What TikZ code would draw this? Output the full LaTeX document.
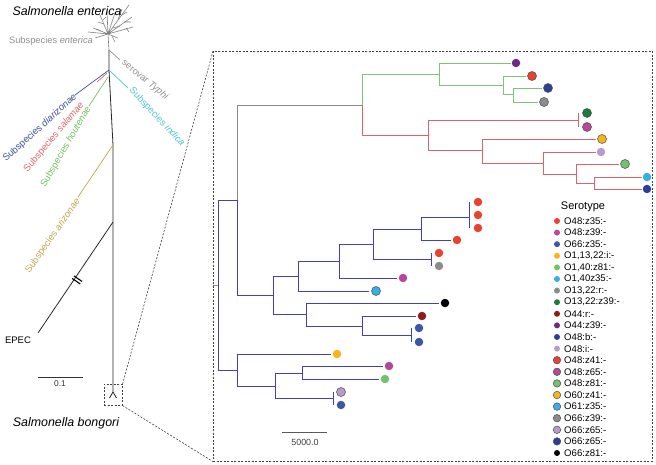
\documentclass[tikz,border=0pt]{standalone}
\usepackage{fontspec}
\setmainfont{Liberation Sans}
\definecolor{cRed}{HTML}{E8432D}
\definecolor{cMag}{HTML}{B5489C}
\definecolor{cBlue}{HTML}{3C57A6}
\definecolor{cOrange}{HTML}{F7B519}
\definecolor{cLGreen}{HTML}{72C16F}
\definecolor{cLBlue}{HTML}{36B0E2}
\definecolor{cGray}{HTML}{8C8C8C}
\definecolor{cDGreen}{HTML}{1B7B3F}
\definecolor{cDRed}{HTML}{8E1B1E}
\definecolor{cPurple}{HTML}{6E2C80}
\definecolor{cDBlue}{HTML}{2C3F98}
\definecolor{cLPurple}{HTML}{B89ACB}
\definecolor{brGreen}{HTML}{7DC47A}
\definecolor{brRed}{HTML}{D9646C}
\definecolor{brBlue}{HTML}{4040C0}
\definecolor{brGray}{HTML}{8A8A8A}
\definecolor{tGray}{HTML}{8F8F8F}
\definecolor{tCyan}{HTML}{4EC3CF}
\definecolor{tBlue}{HTML}{3B4FA0}
\definecolor{tRed}{HTML}{E06666}
\definecolor{tGreen}{HTML}{77C060}
\definecolor{tOlive}{HTML}{C0A550}
\begin{document}
\begin{tikzpicture}[x=1pt,y=-1pt,
  br/.style={line width=0.9pt},
  bgreen/.style={br,draw=brGreen},
  bred/.style={br,draw=brRed},
  bblue/.style={br,draw=brBlue},
  bgray/.style={br,draw=brGray},
  dot/.style={circle,inner sep=0pt,minimum size=8.5pt},
  odot/.style={dot,draw=black!70,line width=0.5pt,minimum size=9pt},
  ldot/.style={circle,inner sep=0pt,minimum size=6pt},
  lodot/.style={ldot,draw=black!70,line width=0.5pt,minimum size=7.5pt},
  dashbox/.style={draw=black!75,dash pattern=on 2pt off 1.5pt,line width=0.6pt},
  lab/.style={font=\fontsize{9.5}{11}\selectfont,inner sep=0pt},
  leg/.style={font=\fontsize{9.6}{11}\selectfont,inner sep=0pt,anchor=west},
  crown/.style={draw=black!50,line width=0.6pt},
  trunk/.style={draw=black!85,line width=0.8pt}
]
\useasboundingbox (0,0) rectangle (656,465);

% ---------- boxes ----------
\node[dashbox,minimum width=439pt,minimum height=410pt,anchor=north west,inner sep=0pt] (bigbox) at (213,51) {};
\node[dashbox,minimum width=18pt,minimum height=21pt,anchor=north west,inner sep=0pt] (smallbox) at (104,384) {};
\draw[dashbox] (smallbox.north east) -- (bigbox.north west);
\draw[dashbox] (smallbox.south east) -- (bigbox.south west);

% ---------- unrooted tree ----------
\coordinate (c0) at (108,34);
\coordinate (tTop) at (109,50);
\coordinate (tA) at (109,70);
\coordinate (tC) at (113,145);
\coordinate (tD) at (113,222);
\coordinate (tE) at (113,392);
\draw[crown] (tTop) -- (c0);
\draw[crown] (c0) -- (100,15) (c0) -- (107,12) (c0) -- (115,13)
  (c0) -- (129,5) (c0) -- (132,17) (c0) -- (133,27) (c0) -- (88,32)
  (c0) -- (96,29) (c0) -- (118,38) (c0) -- (95,38);
\draw[crown] (118,20) -- (122,9) (122,15) -- (127,12) (124,22) -- (131,22)
  (104,24) -- (98,22) (113,28) -- (120,26) (101,31) -- (93,28) (112,36) -- (115,42)
  (103,20) -- (106,17) (126,28) -- (129,32);
\draw[trunk] (tTop) -- (tA) -- (tC) -- (tD) -- (tE);
\draw[trunk] (tE) -- +(-3.5,6) (tE) -- +(3.5,6);

% side branches
\coordinate (ty) at (120,60);
\draw[draw=tGray,line width=0.7pt] (tTop) -- (ty);
\node[lab,text=tGray,rotate=-39] (typhi) at (145,80) {serovar \textit{Typhi}};
\coordinate (ind) at (128,88);
\draw[draw=tCyan,line width=0.7pt] (tA) -- (ind);
\node[lab,text=tCyan,rotate=-47] (indica) at (157,117) {Subspecies \textit{indica}};
\coordinate (dia) at (75,95);
\draw[draw=tBlue,line width=0.7pt] (tA) -- (dia);
\node[lab,text=tBlue,rotate=42] (diar) at (40,128) {Subspecies \textit{diarizonae}};
\coordinate (sal0) at (107,73);
\coordinate (sal) at (97,82);
\draw[draw=tRed,line width=0.7pt] (sal0) -- (sal);
\node[lab,text=tRed,rotate=50] (salam) at (54,137) {Subspecies \textit{salamae}};
\coordinate (hou0) at (108,77);
\coordinate (hou) at (89,106);
\draw[draw=tGreen,line width=0.7pt] (hou0) -- (hou);
\node[lab,text=tGreen,rotate=60] (hout) at (66,147) {Subspecies \textit{houtenae}};
\coordinate (ari) at (78,197);
\draw[draw=tOlive,line width=0.7pt] (tC) -- (ari);
\node[lab,text=tOlive,rotate=55] (ariz) at (53,236) {Subspecies \textit{arizonae}};
\coordinate (ep) at (38,333);
\draw[trunk] (tD) -- (ep);
\draw[black,line width=1.1pt] (72.1,278.4) -- (80.3,284.0) (73.9,275.9) -- (82.1,281.5);
\node[lab] (epec) at (18,340) {EPEC};
\node[inner sep=0pt,font=\itshape\fontsize{12.4}{14}\selectfont] (senter) at (67,11) {Salmonella enterica};
\node[inner sep=0pt,text=tGray,font=\fontsize{9.3}{11}\selectfont] (subent) at (51,41) {Subspecies \textit{enterica}};
\node[inner sep=0pt,font=\itshape\fontsize{12.4}{14}\selectfont] (sbong) at (66,423) {Salmonella bongori};
\coordinate (s1a) at (38,377);
\coordinate (s1b) at (83,377);
\draw[black!80,line width=0.8pt] (s1a) -- (s1b);
\node[inner sep=0pt,font=\fontsize{8.4}{10}\selectfont,text=black!80] (s1l) at (60,384) {0.1};

% ---------- big tree: internal nodes ----------
\coordinate (rt) at (213,285);
\coordinate (n0) at (218,285);
\coordinate (nA) at (237,200);
\coordinate (nZ) at (237,370);
\coordinate (nGR) at (362,105);
\coordinate (nB) at (273,295);
\coordinate (nG) at (439,74);
\coordinate (nR) at (428,135);
\coordinate (nG2) at (503,85);
\coordinate (nG3) at (513,94.5);
\coordinate (nR1) at (578,120);
\coordinate (nR2) at (482,150);
\coordinate (nR3) at (543,163);
\coordinate (nR4) at (576,174);
\coordinate (nR5) at (594,183);
\coordinate (nB1) at (298,276);
\coordinate (nB2) at (306,314);
\coordinate (nB3) at (339,261);
\coordinate (nB4) at (373,244);
\coordinate (nB5) at (421,229);
\coordinate (nB6) at (431,259.5);
\coordinate (nB7) at (469,217);
\coordinate (nB8) at (362,326);
\coordinate (nB9) at (411,335);
\coordinate (nZ1) at (275,386);
\coordinate (nZ2) at (302,373);
\coordinate (nZ3) at (333,398);

% ---------- leaves ----------
\node[dot,fill=cPurple] (g1) at (516,63) {};
\node[odot,fill=cRed] (g2) at (532,76) {};
\node[odot,fill=cDBlue] (g3) at (548,88) {};
\node[odot,fill=cGray] (g4) at (544,102) {};
\node[odot,fill=cDGreen] (r1) at (587,113) {};
\node[odot,fill=cMag] (r2) at (587,127) {};
\node[odot,fill=cOrange] (r3) at (602,139) {};
\node[dot,fill=cLPurple] (r4) at (601,152) {};
\node[odot,fill=cLGreen] (r5) at (625,164) {};
\node[dot,fill=cLBlue] (r6) at (647,177) {};
\node[dot,fill=cDBlue] (r7) at (647,189) {};
\node[dot,fill=cRed] (b1) at (478,202) {};
\node[dot,fill=cRed] (b2) at (478,215) {};
\node[dot,fill=cRed] (b3) at (478,228) {};
\node[dot,fill=cRed] (b4) at (457,240) {};
\node[dot,fill=cRed] (b5) at (439,253) {};
\node[dot,fill=cGray] (b6) at (439,266) {};
\node[dot,fill=cMag] (b7) at (403,278) {};
\node[odot,fill=cLBlue] (b8) at (376,291) {};
\node[dot,fill=black] (b9) at (445,303) {};
\node[dot,fill=cDRed] (b10) at (422,316) {};
\node[dot,fill=cBlue] (b11) at (419,328) {};
\node[dot,fill=cBlue] (b12) at (419,342) {};
\node[dot,fill=cOrange] (b13) at (337,354) {};
\node[dot,fill=cMag] (b14) at (389,366) {};
\node[dot,fill=cLGreen] (b15) at (385,379) {};
\node[odot,fill=cLPurple] (b16) at (341,392) {};
\node[dot,fill=cBlue] (b17) at (341,405) {};

% ---------- branches ----------
\draw[bgray] (rt) -- (n0);
\draw[bgray] (nA) |- (nGR);
\draw[bblue] (n0) |- (nA);
\draw[bblue] (n0) |- (nZ);
\draw[bblue] (nA) |- (nB);
\draw[bblue] (nB) |- (nB1);
\draw[bblue] (nB) |- (nB2);
\draw[bblue,shorten >=2pt] (nB1) |- (b8);
\draw[bblue] (nB1) |- (nB3);
\draw[bblue,shorten >=2pt] (nB3) |- (b7);
\draw[bblue] (nB3) |- (nB4);
\draw[bblue] (nB4) |- (nB5);
\draw[bblue] (nB4) |- (nB6);
\draw[bblue] (nB5) |- (nB7);
\draw[bblue,shorten >=2pt] (nB5) |- (b4);
\draw[bblue] (b1.west -| nB7) -- (b3.west -| nB7);
\draw[bblue] (b5.west -| nB6) -- (b6.west -| nB6);
\draw[bblue,shorten >=2pt] (nB2) |- (b9);
\draw[bblue] (nB2) |- (nB8);
\draw[bblue,shorten >=2pt] (nB8) |- (b10);
\draw[bblue] (nB8) |- (nB9);
\draw[bblue] (b11.west -| nB9) -- (b12.west -| nB9);
\draw[bblue,shorten >=2pt] (nZ) |- (b13);
\draw[bblue] (nZ) |- (nZ1);
\draw[bblue] (nZ1) |- (nZ2);
\draw[bblue] (nZ1) |- (nZ3);
\draw[bblue,shorten >=2pt] (nZ2) |- (b14);
\draw[bblue,shorten >=2pt] (nZ2) |- (b15);
\draw[bblue] (b16.west -| nZ3) -- (b17.west -| nZ3);
\draw[bgreen] (nGR) |- (nG);
\draw[bgreen,shorten >=1pt] (nG) |- (g1);
\draw[bgreen] (nG) |- (nG2);
\draw[bgreen,shorten >=1pt] (nG2) |- (g2);
\draw[bgreen] (nG2) |- (nG3);
\draw[bgreen,shorten >=1pt] (nG3) |- (g3);
\draw[bgreen,shorten >=1pt] (nG3) |- (g4);
\draw[bred] (nGR) |- (nR);
\draw[bred] (nR) |- (nR1);
\draw[bred] (r1.west -| nR1) -- (r2.west -| nR1);
\draw[bred] (nR) |- (nR2);
\draw[bred,shorten >=1pt] (nR2) |- (r3);
\draw[bred] (nR2) |- (nR3);
\draw[bred,shorten >=1pt] (nR3) |- (r4);
\draw[bred] (nR3) |- (nR4);
\draw[bred,shorten >=1pt] (nR4) |- (r5);
\draw[bred] (nR4) |- (nR5);
\draw[bred,shorten >=1pt] (nR5) |- (r6);
\draw[bred,shorten >=1pt] (nR5) |- (r7);

% scale bar
\coordinate (s2a) at (282,432);
\coordinate (s2b) at (327,432);
\draw[black!65,line width=0.9pt] (s2a) -- (s2b);
\node[inner sep=0pt,font=\fontsize{8.9}{10}\selectfont,text=black!75] (s2l) at (305,442) {5000.0};

% ---------- legend ----------
\node[inner sep=0pt,font=\fontsize{11}{13}\selectfont] (legt) at (583,207) {Serotype};
\foreach \c/\s/\t [count=\i] in {
  {cRed/ldot/O48:z35:-},{cMag/ldot/O48:z39:-},{cBlue/ldot/O66:z35:-},
  {cOrange/ldot/O1,13,22:i:-},{cLGreen/ldot/O1,40:z81:-},{cLBlue/ldot/O1,40z35:-},
  {cGray/ldot/O13,22:r:-},{cDGreen/ldot/O13,22:z39:-},{cDRed/ldot/O44:r:-},
  {cPurple/ldot/O44:z39:-},{cDBlue/ldot/O48:b:-},{cLPurple/ldot/O48:i:-},
  {cRed/lodot/O48:z41:-},{cMag/lodot/O48:z65:-},{cLGreen/lodot/O48:z81:-},
  {cOrange/lodot/O60:z41:-},{cLBlue/lodot/O61:z35:-},{cGray/lodot/O66:z39:-},
  {cLPurple/lodot/O66:z65:-},{cDBlue/lodot/O66:z65:-},{black/ldot/O66:z81:-}}{
  \pgfmathsetmacro{\yy}{221+(\i-1)*11.6}
  \node[\s,fill=\c] (ld\i) at (557,\yy) {};
  \node[leg] (lt\i) at (564,\yy) {\t};
}
\end{tikzpicture}
\end{document}
